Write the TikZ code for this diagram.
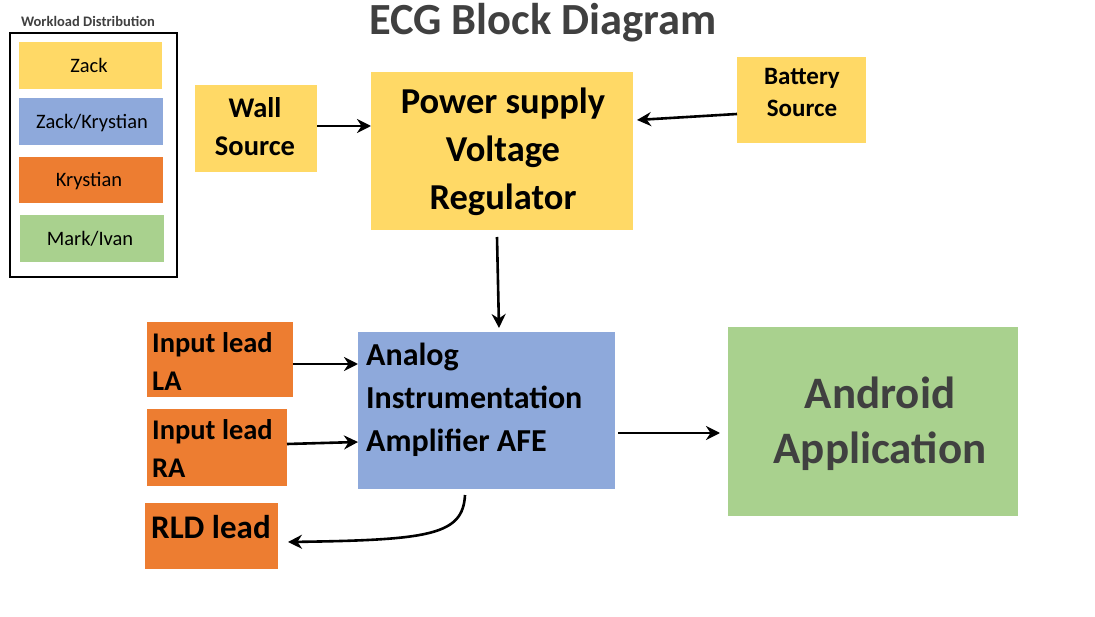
\documentclass[tikz,border=0pt]{standalone}
\usepackage{fontspec}
\setmainfont{Carlito}
\usetikzlibrary{arrows.meta,calc}
\definecolor{cyel}{HTML}{FFD966}
\definecolor{cblue}{HTML}{8EA9DB}
\definecolor{corange}{HTML}{ED7D31}
\definecolor{cgreen}{HTML}{A9D18E}
\definecolor{cgray}{HTML}{404040}
\begin{document}
\begin{tikzpicture}[x=1pt,y=-1pt,
  blk/.style={draw=none,inner sep=0pt,outer sep=0pt},
  lbl/.style={inner sep=0pt,font=\bfseries,align=center},
  leg/.style={inner sep=0pt},
  arr/.style={line width=2.6pt,-{Stealth[length=14pt,width=14pt]}}]
\useasboundingbox[fill=white] (0,0) rectangle (1095,617);
% title
\node[lbl,text=cgray,font=\bfseries\fontsize{44.5}{44}\selectfont] (title) at (543,23) {ECG Block Diagram};
% legend
\node[lbl,text=cgray,font=\bfseries\fontsize{14.5}{15}\selectfont] (legt) at (88,21) {Workload Distribution};
\draw[line width=2.5pt] (10,33) rectangle (177,277);
\fill[cyel] (19,42) rectangle (162,89);
\node[leg,font=\fontsize{20.5}{20}\selectfont] (l1) at (89,65) {Zack};
\fill[cblue] (19,98) rectangle (163,145);
\node[leg,font=\fontsize{20.5}{20}\selectfont] (l2) at (92,123) {Zack/Krystian};
\fill[corange] (19,157) rectangle (163,203);
\node[leg,font=\fontsize{20.5}{20}\selectfont] (l3) at (89,181) {Krystian};
\fill[cgreen] (20,215) rectangle (164,262);
\node[leg,font=\fontsize{20.5}{20}\selectfont] (l4) at (90,239) {Mark/Ivan};
% blocks
\node[blk,fill=cyel,minimum width=122pt,minimum height=87pt,anchor=north west] (wall) at (195,85) {};
\node[lbl,font=\bfseries\fontsize{28.5}{38}\selectfont] (wallt) at (255,127) {Wall\\Source};
\node[blk,fill=cyel,minimum width=262pt,minimum height=158pt,anchor=north west] (ps) at (371,72) {};
\node[lbl,font=\bfseries\fontsize{36.5}{48}\selectfont] (pst) at (503,152) {Power supply\\Voltage\\Regulator};
\node[blk,fill=cyel,minimum width=129pt,minimum height=86pt,anchor=north west] (bat) at (737,57) {};
\node[lbl,font=\bfseries\fontsize{25}{32}\selectfont] (batt) at (802,92) {Battery\\Source};
\node[blk,fill=corange,minimum width=146pt,minimum height=75pt,anchor=north west] (la) at (147,322) {};
\node[lbl,align=left,anchor=west,font=\bfseries\fontsize{28.5}{38}\selectfont] (lat) at (152,362) {Input lead\\LA};
\node[blk,fill=corange,minimum width=140pt,minimum height=77pt,anchor=north west] (ra) at (147,409) {};
\node[lbl,align=left,anchor=west,font=\bfseries\fontsize{28.5}{38}\selectfont] (rat) at (152,449) {Input lead\\RA};
\node[blk,fill=corange,minimum width=133pt,minimum height=66pt,anchor=north west] (rld) at (145,503) {};
\node[lbl,anchor=west,font=\bfseries\fontsize{33}{33}\selectfont] (rldt) at (151,527) {RLD lead};
\node[blk,fill=cblue,minimum width=257pt,minimum height=157pt,anchor=north west] (afe) at (358,332) {};
\node[lbl,align=left,anchor=west,font=\bfseries\fontsize{32}{43}\selectfont] (afet) at (366,400) {Analog\\Instrumentation\\Amplifier AFE};
\node[blk,fill=cgreen,minimum width=290pt,minimum height=189pt,anchor=north west] (and) at (728,327) {};
\node[lbl,text=cgray,font=\bfseries\fontsize{45}{55}\selectfont] (andt) at (880,424) {Android\\Application};
% connectors
\coordinate (w1) at (317,126);
\draw[arr] (w1) -- (w1 -| ps.west);
\coordinate (b1) at (737,114);
\draw[arr] (b1) -- ([xshift=4pt]ps.east |- 0,120);
\coordinate (p1) at (497,237);
\coordinate (p2) at (499,328);
\draw[arr] (p1) -- (p2);
\draw[arr] (la.east |- 0,364) -- (afe.west |- 0,364);
\draw[arr] (ra.east |- 0,444) -- (afe.west |- 0,442);
\draw[arr] ([xshift=3pt]afe.east |- 0,433) -- ([xshift=-8pt]and.west |- 0,433);
\coordinate (c1) at (465,495);
\draw[arr] (c1) .. controls (463,535) and (430,540) .. ([xshift=10pt]rld.east |- 0,542);
\end{tikzpicture}
\end{document}
